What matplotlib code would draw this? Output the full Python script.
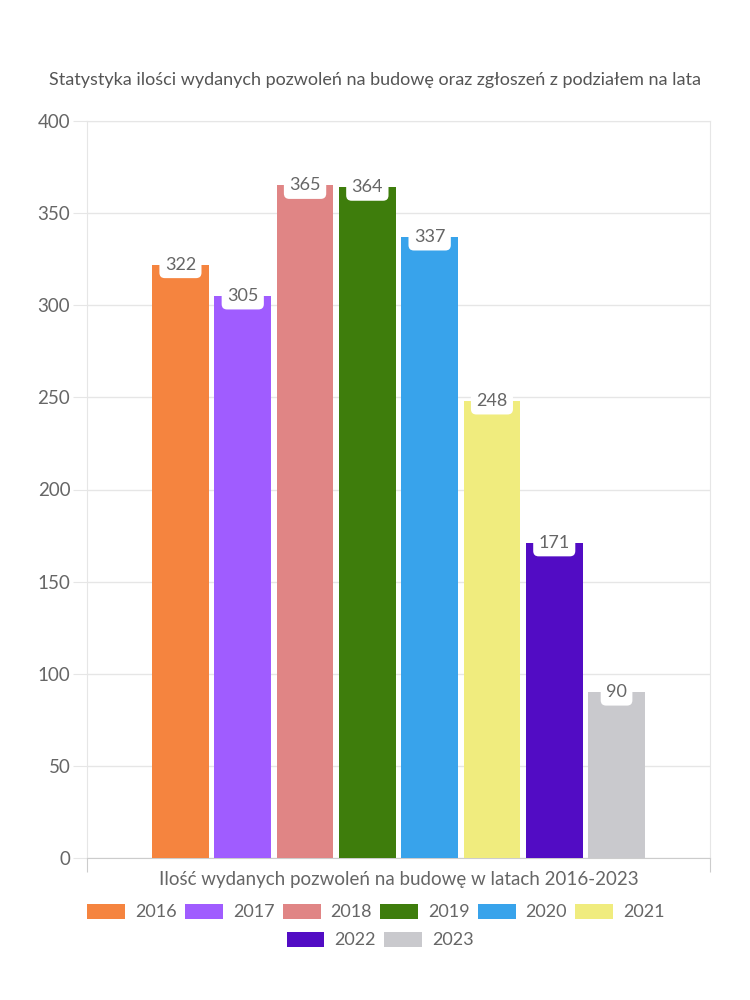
import matplotlib
matplotlib.use("Agg")
import matplotlib.pyplot as plt
from matplotlib.patches import Patch

years = ["2016", "2017", "2018", "2019", "2020", "2021", "2022", "2023"]
values = [322, 305, 365, 364, 337, 248, 171, 90]
colors = ["#F5843F", "#A05CFF", "#E08585", "#3E7D0C", "#38A3EB", "#F0EC7E", "#520CC4", "#C9C9CD"]
yticks = [0, 50, 100, 150, 200, 250, 300, 350, 400]
title = "Statystyka ilości wydanych pozwoleń na budowę oraz zgłoszeń z podziałem na lata"
xlabel = "Ilość wydanych pozwoleń na budowę w latach 2016-2023"

plt.rcParams['font.family'] = ['Lato', 'DejaVu Sans']
txt = "#666666"

fig = plt.figure(figsize=(7.5, 10), dpi=100)
ax = fig.add_axes([87/750, 1-858/1000, (710-87)/750, (858-121)/1000])

xs = list(range(len(values)))
ax.bar(xs, values, width=0.91, color=colors, zorder=3)
for x, v in zip(xs, values):
    ax.text(x, v, str(v), ha="center", va="center", fontsize=13, color=txt, zorder=4,
            bbox=dict(boxstyle="round,pad=0.3,rounding_size=0.3", fc="white", ec="none"))

ax.set_xlim(-1.5, 8.5)
ax.set_ylim(0, 400)
ax.set_yticks(yticks)
ax.set_yticklabels([str(t) for t in yticks], fontsize=13.5, color=txt)
ax.set_xticks([-1.5, 8.5])
ax.set_xticklabels([])
ax.tick_params(axis="y", length=10, color="#e6e6e6", pad=2)
ax.tick_params(axis="x", length=10, color="#cccccc")
ax.grid(axis="y", color="#e6e6e6", linewidth=1, zorder=0)
for s in ["left", "right", "top"]:
    ax.spines[s].set_color("#e6e6e6")
ax.spines["bottom"].set_color("#cccccc")

fig.text((40 + 710) / 2 / 750, 1 - 80/1000, title, ha="center", va="center", fontsize=13, color="#555555")
fig.text(399/750, 1 - 880/1000, xlabel, ha="center", va="center", fontsize=13.5, color=txt)

handles = [Patch(facecolor=c, edgecolor="none") for c in colors]
leg_kw = dict(frameon=False, fontsize=13, handlelength=2.1, handleheight=0.95,
              handletextpad=0.55, columnspacing=0.45, labelcolor=txt)
l1 = fig.legend(handles[:6], years[:6], ncol=6, loc="center", bbox_to_anchor=(376/750, 1 - 912/1000), **leg_kw)
l2 = fig.legend(handles[6:], years[6:], ncol=2, loc="center", bbox_to_anchor=(380/750, 1 - 940/1000), **leg_kw)

fig.savefig("out.png", dpi=100, facecolor="white")
